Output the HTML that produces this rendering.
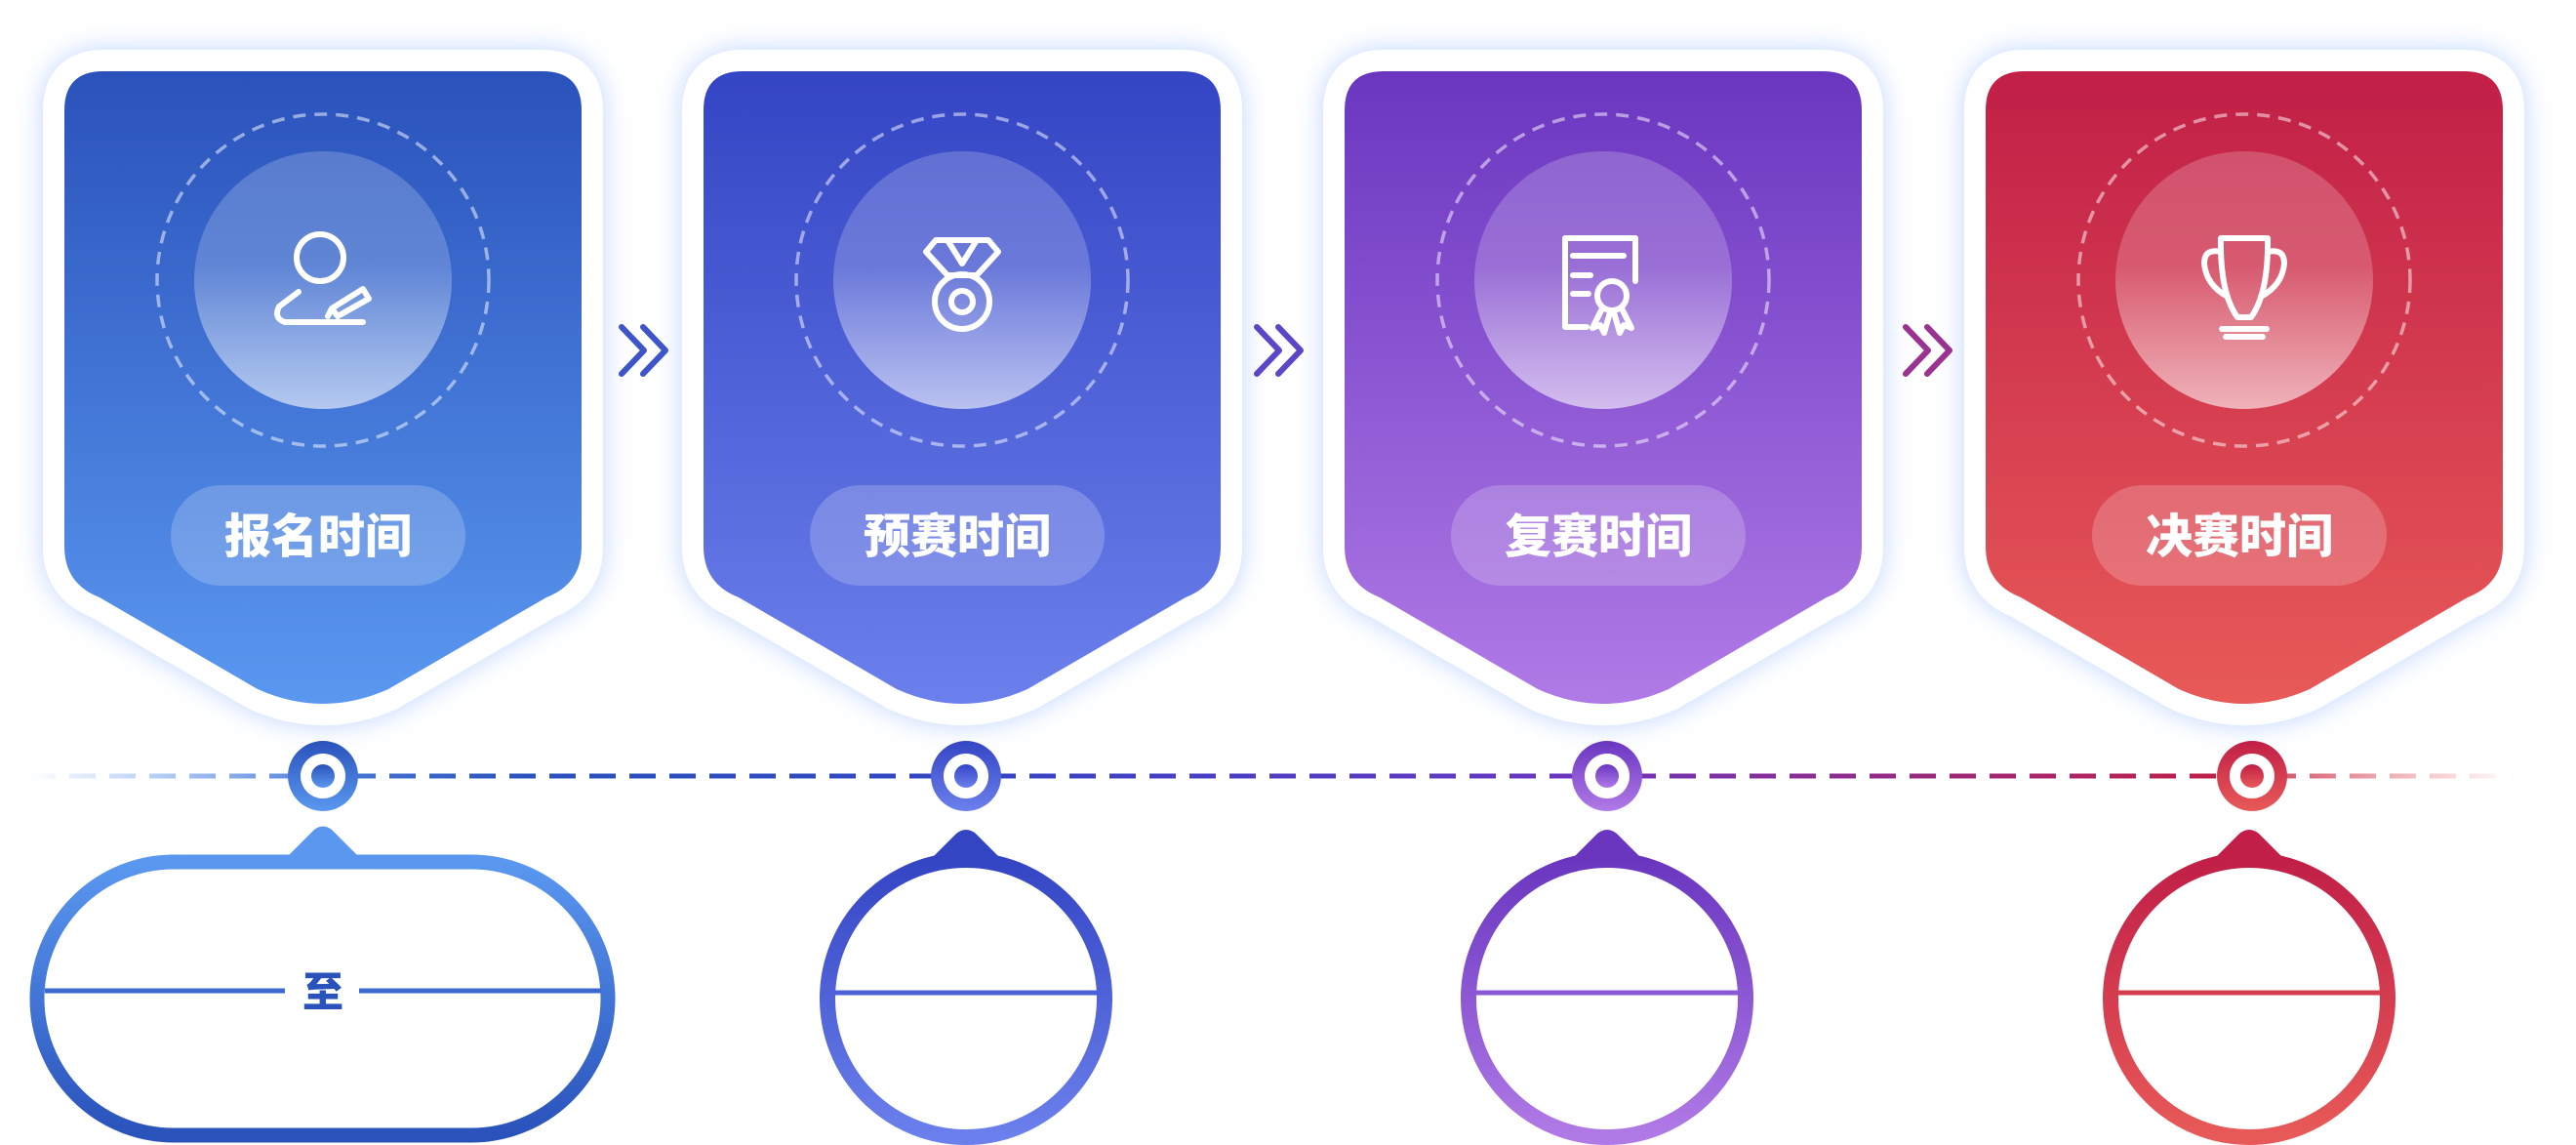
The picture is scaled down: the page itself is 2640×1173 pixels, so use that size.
<!DOCTYPE html>
<html><head><meta charset="utf-8"><style>
html,body{margin:0;padding:0;background:#fff;}
svg{display:block}
text{font-family:"Liberation Sans","Noto Sans CJK SC",sans-serif;font-weight:900}
</style></head><body>
<svg width="2640" height="1173" viewBox="0 0 2640 1173" xmlns="http://www.w3.org/2000/svg">
<defs>
<linearGradient id="g1" x1="0" y1="0" x2="0" y2="1"><stop offset="0" stop-color="#2a52bb"/><stop offset="1" stop-color="#5a98f0"/></linearGradient>
<linearGradient id="g2" x1="0" y1="0" x2="0" y2="1"><stop offset="0" stop-color="#3445c4"/><stop offset="1" stop-color="#6b80ec"/></linearGradient>
<linearGradient id="g3" x1="0" y1="0" x2="0" y2="1"><stop offset="0" stop-color="#6a36c0"/><stop offset="1" stop-color="#b07ae6"/></linearGradient>
<linearGradient id="g4" x1="0" y1="0" x2="0" y2="1"><stop offset="0" stop-color="#c11f47"/><stop offset="1" stop-color="#e85a58"/></linearGradient>
<linearGradient id="g1r" x1="0" y1="0" x2="0" y2="1"><stop offset="0" stop-color="#5a98f0"/><stop offset="1" stop-color="#2a52bb"/></linearGradient>
<linearGradient id="ic" x1="0" y1="0" x2="0" y2="1"><stop offset="0" stop-color="#fff" stop-opacity="0.2"/><stop offset="0.45" stop-color="#fff" stop-opacity="0.2"/><stop offset="1" stop-color="#fff" stop-opacity="0.6"/></linearGradient>
<linearGradient id="tl" gradientUnits="userSpaceOnUse" x1="30" y1="0" x2="2580" y2="0">
<stop offset="0" stop-color="#5a98f0" stop-opacity="0"/><stop offset="0.12" stop-color="#4a78d8"/><stop offset="0.2" stop-color="#2a52bb"/><stop offset="0.38" stop-color="#3445c4"/><stop offset="0.62" stop-color="#6a36c0"/><stop offset="0.88" stop-color="#c11f47"/><stop offset="1" stop-color="#e85a58" stop-opacity="0"/></linearGradient>
<filter id="glow" x="-20%" y="-20%" width="140%" height="140%"><feDropShadow dx="0" dy="0" stdDeviation="14" flood-color="#8fb4ff" flood-opacity="0.55"/></filter>
<path id="card" d="M106,73 H556 Q596,73 596,113 V560 Q596,598 560,612 L398,706 Q331,736 264,706 L102,612 Q66,598 66,560 V113 Q66,73 106,73 Z"/>
</defs>

<!-- timeline -->
<line x1="30" y1="795" x2="2580" y2="795" stroke="url(#tl)" stroke-width="5" stroke-dasharray="27 14"/>

<!-- cards -->
<g id="c">
<g>
 <use href="#card" fill="#fff" stroke="#fff" stroke-width="44" stroke-linejoin="round" filter="url(#glow)"/>
 <use href="#card" fill="url(#g1)"/>
 <circle cx="331" cy="287" r="170" fill="none" stroke="#fff" stroke-opacity="0.5" stroke-width="3.5" stroke-dasharray="13 9"/>
 <circle cx="331" cy="287" r="132" fill="url(#ic)"/>
 <rect x="175" y="497" width="302" height="103" rx="51.5" fill="#fff" fill-opacity="0.2"/>
 <text x="326" y="566" font-size="48" fill="#fff" text-anchor="middle">报名时间</text>
 <g fill="none" stroke="#fff" stroke-width="6" stroke-linecap="round" stroke-linejoin="round">
  <circle cx="328" cy="264" r="24"/>
  <path d="M306,299 L286,314 Q280,326 292,330 L372,330"/>
  <path d="M340,316 L372,296 L378,306 L346,324 Z M336,324 L340,316"/>
 </g>
</g>
<g transform="translate(655,0)">
 <use href="#card" fill="#fff" stroke="#fff" stroke-width="44" stroke-linejoin="round" filter="url(#glow)"/>
 <use href="#card" fill="url(#g2)"/>
 <circle cx="331" cy="287" r="170" fill="none" stroke="#fff" stroke-opacity="0.5" stroke-width="3.5" stroke-dasharray="13 9"/>
 <circle cx="331" cy="287" r="132" fill="url(#ic)"/>
 <rect x="175" y="497" width="302" height="103" rx="51.5" fill="#fff" fill-opacity="0.2"/>
 <text x="326" y="566" font-size="48" fill="#fff" text-anchor="middle">预赛时间</text>
 <g fill="none" stroke="#fff" stroke-width="6" stroke-linecap="round" stroke-linejoin="round">
  <path d="M304,246 L358,246 L368,258 L346,282 L316,282 L294,258 Z"/>
  <path d="M316,246 L331,270 L346,246"/>
  <circle cx="331" cy="309" r="28"/>
  <circle cx="331" cy="309" r="11"/>
 </g>
</g>
<g transform="translate(1312,0)">
 <use href="#card" fill="#fff" stroke="#fff" stroke-width="44" stroke-linejoin="round" filter="url(#glow)"/>
 <use href="#card" fill="url(#g3)"/>
 <circle cx="331" cy="287" r="170" fill="none" stroke="#fff" stroke-opacity="0.5" stroke-width="3.5" stroke-dasharray="13 9"/>
 <circle cx="331" cy="287" r="132" fill="url(#ic)"/>
 <rect x="175" y="497" width="302" height="103" rx="51.5" fill="#fff" fill-opacity="0.2"/>
 <text x="326" y="566" font-size="48" fill="#fff" text-anchor="middle">复赛时间</text>
 <g fill="none" stroke="#fff" stroke-width="6" stroke-linecap="round" stroke-linejoin="round">
  <path d="M314,335 L292,335 L292,244 L364,244 L364,288"/>
  <path d="M300,262 L352,262 M300,282 L318,282 M300,301 L316,301"/>
  <circle cx="340" cy="303" r="15"/>
  <path d="M330,316 L320,336 L328,333 L332,341 L338,320 M350,316 L360,336 L352,333 L348,341 L342,320"/>
 </g>
</g>
<g transform="translate(1969,0)">
 <use href="#card" fill="#fff" stroke="#fff" stroke-width="44" stroke-linejoin="round" filter="url(#glow)"/>
 <use href="#card" fill="url(#g4)"/>
 <circle cx="331" cy="287" r="170" fill="none" stroke="#fff" stroke-opacity="0.5" stroke-width="3.5" stroke-dasharray="13 9"/>
 <circle cx="331" cy="287" r="132" fill="url(#ic)"/>
 <rect x="175" y="497" width="302" height="103" rx="51.5" fill="#fff" fill-opacity="0.2"/>
 <text x="326" y="566" font-size="48" fill="#fff" text-anchor="middle">决赛时间</text>
 <g fill="none" stroke="#fff" stroke-width="6" stroke-linecap="round" stroke-linejoin="round">
  <path d="M307,244 L355,244 Q356,300 338,325 L324,325 Q306,300 307,244 Z"/>
  <path d="M307,258 Q290,254 290,270 Q292,292 314,304 M355,258 Q372,254 372,270 Q370,292 348,304"/>
  <path d="M308,337 L354,337 M312,345 L350,345"/>
 </g>
</g>
</g>

<!-- chevrons -->
<g fill="none" stroke-width="6" stroke-linecap="round" stroke-linejoin="round">
 <path d="M637,335 L660,359 L637,383 M659,335 L682,359 L659,383" stroke="#3d55c8"/>
 <path d="M1288,335 L1311,359 L1288,383 M1310,335 L1333,359 L1310,383" stroke="#5d45c8"/>
 <path d="M1953,335 L1976,359 L1953,383 M1975,335 L1998,359 L1975,383" stroke="#9a3290"/>
</g>

<!-- nodes -->
<g>
 <circle cx="331" cy="795" r="36" fill="url(#g1)"/><circle cx="331" cy="795" r="23" fill="#fff"/><circle cx="331" cy="795" r="12" fill="url(#g1)"/>
 <circle cx="990" cy="795" r="36" fill="url(#g2)"/><circle cx="990" cy="795" r="23" fill="#fff"/><circle cx="990" cy="795" r="12" fill="url(#g2)"/>
 <circle cx="1647" cy="795" r="36" fill="url(#g3)"/><circle cx="1647" cy="795" r="23" fill="#fff"/><circle cx="1647" cy="795" r="12" fill="url(#g3)"/>
 <circle cx="2308" cy="795" r="36" fill="url(#g4)"/><circle cx="2308" cy="795" r="23" fill="#fff"/><circle cx="2308" cy="795" r="12" fill="url(#g4)"/>
</g>

<!-- bottom card 1 -->
<path d="M290,882 L322,850 Q331,843 340,850 L372,882 Z" fill="#5a98f0"/>
<rect x="38" y="883" width="585" height="280" rx="140" fill="#fff" stroke="url(#g1r)" stroke-width="15"/>
<line x1="46" y1="1015" x2="292" y2="1015" stroke="#3a6ad0" stroke-width="5"/>
<line x1="368" y1="1015" x2="616" y2="1015" stroke="#3a6ad0" stroke-width="5"/>
<text x="331" y="1031" font-size="42" fill="#2a52bb" text-anchor="middle">至</text>

<!-- bottom circles -->
<g>
 <path d="M950,884 L980,854 Q990,846 1000,854 L1030,884 Z" fill="#3445c4"/>
 <circle cx="990" cy="1023" r="142" fill="#fff" stroke="url(#g2)" stroke-width="16"/>
 <line x1="852" y1="1017" x2="1128" y2="1017" stroke="#4c60d8" stroke-width="5"/>
 <path d="M1607,884 L1637,854 Q1647,846 1657,854 L1687,884 Z" fill="#6a36c0"/>
 <circle cx="1647" cy="1023" r="142" fill="#fff" stroke="url(#g3)" stroke-width="16"/>
 <line x1="1509" y1="1017" x2="1785" y2="1017" stroke="#8a58d4" stroke-width="5"/>
 <path d="M2265,884 L2295,854 Q2305,846 2315,854 L2345,884 Z" fill="#c11f47"/>
 <circle cx="2305" cy="1023" r="142" fill="#fff" stroke="url(#g4)" stroke-width="16"/>
 <line x1="2167" y1="1017" x2="2443" y2="1017" stroke="#d43c50" stroke-width="5"/>
</g>
</svg>
</body></html>
